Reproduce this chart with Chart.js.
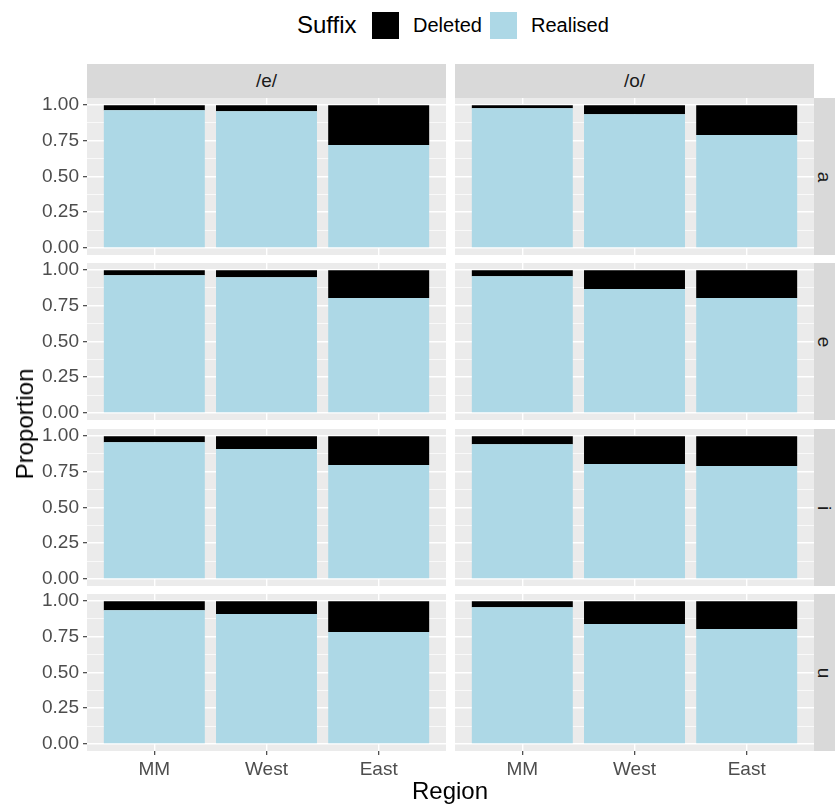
<!DOCTYPE html>
<html>
<head>
<meta charset="utf-8">
<script src="https://cdn.jsdelivr.net/npm/chart.js@4.4.1/dist/chart.umd.min.js"></script>
<style>
    body { margin: 0; background: #fff; }
    #fig { position: relative; width: 835px; height: 804px; overflow: hidden; background: #fff;
           font-family: 'Liberation Sans', Arial, sans-serif; }
    #fig canvas { position: absolute; }
    .strip { position: absolute; background: #D9D9D9; color: #1A1A1A; font-size: 19px;
             display: flex; align-items: center; justify-content: center; }
    .strip span.rot { display: inline-block; transform: rotate(90deg); }
    .title { position: absolute; font-size: 24px; color: #000; white-space: nowrap; }
    .key { position: absolute; width: 27px; height: 27px; }
    .keytext { position: absolute; font-size: 20px; color: #000; white-space: nowrap; transform: translateY(-50%); }
</style>
</head>
<body>
<div id="fig"></div>
<script>
    // ---- data ----
    const regions = ['MM', 'West', 'East'];
    const vowels = ['a', 'e', 'i', 'u'];        // row strips
    const contexts = ['/e/', '/o/'];             // column strips
    const suffixes = ['Deleted', 'Realised'];
    const suffixColors = ['#000000', '#ADD8E6'];
    const yTicks = [0, 0.25, 0.5, 0.75, 1];
    const yMinor = [0.125, 0.375, 0.625, 0.875];

    // proportions per row (a, e, i, u), columns MM / West / East
    const realisedE = [
        [0.965, 0.958, 0.720],
        [0.965, 0.951, 0.804],
        [0.958, 0.909, 0.797],
        [0.937, 0.909, 0.783]
    ];
    const deletedE = [
        [0.035, 0.042, 0.280],
        [0.035, 0.049, 0.196],
        [0.042, 0.091, 0.203],
        [0.063, 0.091, 0.217]
    ];
    const realisedO = [
        [0.979, 0.937, 0.790],
        [0.958, 0.867, 0.804],
        [0.944, 0.804, 0.790],
        [0.958, 0.839, 0.804]
    ];
    const deletedO = [
        [0.021, 0.063, 0.210],
        [0.042, 0.133, 0.196],
        [0.056, 0.196, 0.210],
        [0.042, 0.161, 0.196]
    ];

    // ---- layout ----
    const fig = document.getElementById('fig');
    const ROW_TOP = [98, 263, 429, 594];
    const COL_LEFT = [87, 455];
    const PANEL_W = 359, PANEL_H = 157;
    const Y_AXIS_W = 87, X_AXIS_H = 40, PAD = 24;
    const FONT = "'Liberation Sans', Arial, sans-serif";

    const panelBg = {
        id: 'panelBg',
        beforeDraw(chart) {
            const a = chart.chartArea;
            chart.ctx.save();
            chart.ctx.fillStyle = '#EBEBEB';
            chart.ctx.fillRect(a.left, a.top, a.right - a.left, a.bottom - a.top);
            chart.ctx.restore();
        }
    };

    function addDiv(cls, css, html) {
        const d = document.createElement('div');
        d.className = cls;
        Object.assign(d.style, css);
        d.innerHTML = html;
        fig.appendChild(d);
        return d;
    }

    function makePanel(row, col) {
        const isLeft = col === 0;
        const isBottom = row === vowels.length - 1;
        const realised = col === 0 ? realisedE[row] : realisedO[row];
        const deleted = col === 0 ? deletedE[row] : deletedO[row];

        const canvas = document.createElement('canvas');
        canvas.width = isLeft ? Y_AXIS_W + PANEL_W : PANEL_W;
        canvas.height = PAD + PANEL_H + (isBottom ? X_AXIS_H : PAD);
        canvas.style.left = (isLeft ? 0 : COL_LEFT[1]) + 'px';
        canvas.style.top = (ROW_TOP[row] - PAD) + 'px';
        fig.appendChild(canvas);

        const toPoints = arr => arr.map((v, i) => ({ x: i + 1, y: v }));

        new Chart(canvas, {
            type: 'bar',
            data: {
                datasets: [
                    { label: suffixes[1], data: toPoints(realised), backgroundColor: suffixColors[1] },
                    { label: suffixes[0], data: toPoints(deleted), backgroundColor: suffixColors[0] }
                ]
            },
            options: {
                responsive: false,
                animation: false,
                events: [],
                layout: { autoPadding: false, padding: { top: PAD, bottom: isBottom ? 0 : PAD, left: 0, right: 0 } },
                datasets: { bar: { categoryPercentage: 1, barPercentage: 0.9, borderWidth: 0 } },
                plugins: { legend: { display: false }, tooltip: { enabled: false } },
                scales: {
                    x: {
                        type: 'linear', stacked: true, min: 0.4, max: 3.6, bounds: 'data', offset: false,
                        afterBuildTicks: s => { s.ticks = regions.map((r, i) => ({ value: i + 1 })); },
                        afterFit: s => { s.height = isBottom ? X_AXIS_H : 0; },
                        border: { display: false },
                        grid: { offset: false, color: '#FFFFFF', lineWidth: 1.4, drawTicks: isBottom,
                                tickLength: 4, tickColor: '#333333', tickWidth: 1.1 },
                        ticks: { display: isBottom, autoSkip: false, maxRotation: 0, padding: 3,
                                 color: '#4D4D4D', font: { family: FONT, size: 19 },
                                 callback: v => regions[v - 1] }
                    },
                    y: {
                        type: 'linear', stacked: true, min: -0.05, max: 1.05, bounds: 'data',
                        afterBuildTicks: s => {
                            s.ticks = yTicks.concat(yMinor).sort((a, b) => a - b).map(v => ({ value: v }));
                        },
                        afterFit: s => { s.width = isLeft ? Y_AXIS_W : 0; },
                        border: { display: false },
                        grid: {
                            color: '#FFFFFF',
                            lineWidth: c => yTicks.includes(c.tick.value) ? 1.4 : 0.7,
                            drawTicks: isLeft, tickLength: 4, tickWidth: 1.1,
                            tickColor: c => yTicks.includes(c.tick.value) ? '#333333' : 'rgba(0,0,0,0)'
                        },
                        ticks: { display: isLeft, autoSkip: false, padding: 4,
                                 color: '#4D4D4D', font: { family: FONT, size: 19 },
                                 callback: v => yTicks.includes(v) ? v.toFixed(2) : '' }
                    }
                }
            },
            plugins: [panelBg]
        });
    }

    // strips
    contexts.forEach((c, col) => {
        addDiv('strip', { left: COL_LEFT[col] + 'px', top: '64px', width: PANEL_W + 'px', height: '34px' }, c);
    });
    vowels.forEach((v, row) => {
        addDiv('strip', { left: '814px', top: ROW_TOP[row] + 'px', width: '21px', height: PANEL_H + 'px' },
               '<span class="rot">' + v + '</span>');
    });

    for (let row = 0; row < vowels.length; row++) {
        for (let col = 0; col < contexts.length; col++) makePanel(row, col);
    }

    // axis titles
    addDiv('title', { left: '25px', top: '424px', transform: 'translate(-50%, -50%) rotate(-90deg)' }, 'Proportion');
    addDiv('title', { left: '450px', top: '791px', transform: 'translate(-50%, -50%)' }, 'Region');

    // legend
    addDiv('title', { left: '297px', top: '25px', transform: 'translateY(-50%)' }, 'Suffix');
    const keyLeft = [372, 490], textLeft = [413, 531];
    suffixes.forEach((s, i) => {
        addDiv('key', { left: keyLeft[i] + 'px', top: '12px', background: suffixColors[i] }, '');
        addDiv('keytext', { left: textLeft[i] + 'px', top: '25px' }, s);
    });
</script>
</body>
</html>
